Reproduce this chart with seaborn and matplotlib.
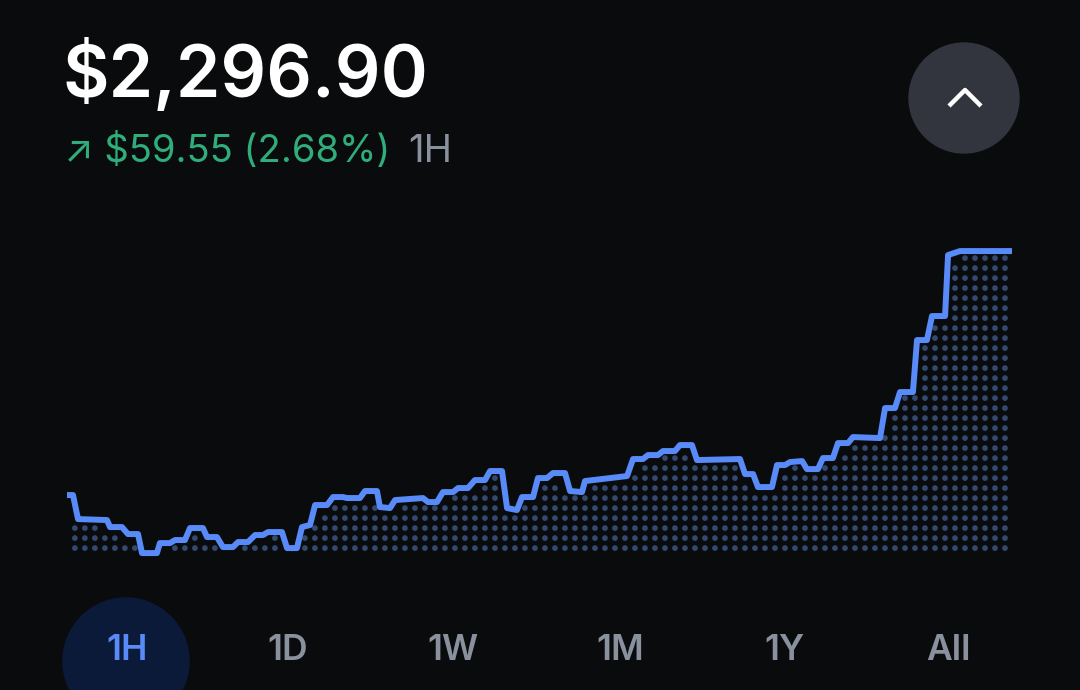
import numpy as np
import pandas as pd
import seaborn as sns
import matplotlib.pyplot as plt
from matplotlib.patches import Circle

# values
minutes = [0.00, 0.38, 0.70, 2.54, 2.73, 3.49, 3.87, 4.51, 4.76, 5.71, 5.90, 6.54, 6.86, 7.49,
           7.81, 8.63, 8.89, 9.52, 9.90, 10.54, 10.86, 11.49, 11.94, 12.44, 12.76, 13.65, 13.97,
           14.60, 14.92, 15.43, 15.75, 16.51, 16.89, 17.52, 17.78, 18.60, 18.92, 19.68, 19.87,
           20.51, 20.83, 22.60, 22.92, 23.49, 23.87, 24.51, 24.83, 25.46, 25.90, 26.54, 26.86,
           27.62, 27.94, 28.57, 28.89, 29.59, 29.90, 30.48, 30.86, 31.62, 31.94, 32.70, 32.89,
           35.56, 35.94, 36.57, 36.89, 37.52, 37.84, 38.60, 38.92, 39.68, 40.00, 42.73, 43.05,
           43.56, 43.87, 44.76, 45.08, 45.59, 45.90, 46.67, 46.98, 47.68, 48.00, 48.63, 48.95,
           49.59, 49.90, 51.62, 51.94, 52.57, 52.89, 53.71, 53.97, 54.60, 54.92, 55.75, 55.94,
           56.70, 60.00]
price = [2237.35, 2237.35, 2231.49, 2231.25, 2229.54, 2229.54, 2227.83, 2227.83, 2223.19,
         2223.19, 2225.63, 2225.63, 2226.37, 2226.37, 2229.30, 2229.30, 2227.10, 2227.10,
         2224.66, 2224.66, 2225.88, 2225.88, 2227.59, 2227.59, 2228.32, 2228.32, 2224.41,
         2224.41, 2229.54, 2230.03, 2234.91, 2234.91, 2236.86, 2236.86, 2236.62, 2236.62,
         2238.33, 2238.33, 2234.42, 2234.18, 2236.13, 2236.62, 2235.64, 2235.64, 2238.08,
         2238.08, 2239.06, 2239.06, 2241.01, 2241.01, 2243.21, 2243.21, 2234.18, 2233.69,
         2236.86, 2236.86, 2241.50, 2241.50, 2242.72, 2242.72, 2238.33, 2238.08, 2240.77,
         2241.99, 2246.14, 2246.14, 2247.11, 2247.11, 2248.09, 2248.09, 2249.55, 2249.55,
         2245.89, 2246.14, 2242.47, 2242.47, 2239.30, 2239.30, 2244.67, 2244.67, 2245.40,
         2245.65, 2243.69, 2243.69, 2246.38, 2246.38, 2250.04, 2250.04, 2251.50, 2251.26,
         2258.58, 2258.58, 2262.49, 2262.49, 2275.18, 2275.18, 2281.04, 2281.04, 2295.92,
         2296.90, 2296.90]

current_price = "$2,296.90"
change_text = "\u2197 $59.55 (2.68%)"
period = "1H"
tabs = ["1H", "1D", "1W", "1M", "1Y", "All"]

df = pd.DataFrame({"minute": minutes, "price": price})

bg = "#0a0b0d"
blue = "#588af8"
dot_blue = "#34496f"
grey = "#8a919e"
green = "#2fae7b"

sns.set_theme(style="dark")
plt.rcParams["font.family"] = ["Inter", "DejaVu Sans"]

fig = plt.figure(figsize=(10.8, 6.9), dpi=100, facecolor=bg)

# pixel-space layer for the header, button and tabs
deco = fig.add_axes([0, 0, 1, 1], zorder=0)
deco.set_xlim(0, 1080)
deco.set_ylim(690, 0)
deco.axis("off")

deco.text(62, 97, current_price, color="white", fontsize=51.5, fontweight="semibold", va="baseline")
deco.text(64, 162, change_text, color=green, fontsize=27.5, va="baseline")
deco.text(408, 162, period, color=grey, fontsize=27.5, va="baseline")

deco.add_patch(Circle((964, 98), 55, color="#32353d"))
deco.plot([949, 965, 981], [106, 90, 106], color="white", lw=3.2, solid_capstyle="butt")

# tab bar
tab_x = [127, 288, 453, 620, 785, 948]
deco.add_patch(Circle((126, 661), 63, color="#0c1a3a", clip_on=True))
for i, (t, x) in enumerate(zip(tabs, tab_x)):
    deco.text(x, 660, t, color=blue if i == 0 else grey, fontsize=25.5,
              fontweight="semibold", ha="center", va="baseline")

# chart
ax = fig.add_axes([67 / 1080, 130 / 690, 945 / 1080, 320 / 690], zorder=1)
ax.set_facecolor("none")
ax.set_xlim(0, 60)
ax.set_ylim(2221.5, 2299.6)
ax.axis("off")

# dotted area below the line
cols = np.arange(0.5, 59.7, 0.635)
rows = 2224.41 + 2.4406 * np.arange(0, 31)
px, py = [], []
for c in cols:
    top = min(np.interp(c - 0.25, minutes, price), np.interp(c, minutes, price),
              np.interp(c + 0.25, minutes, price)) - 1.3
    for r in rows:
        if r <= top:
            px.append(c)
            py.append(r)
sns.scatterplot(x=px, y=py, ax=ax, s=17, color=dot_blue, edgecolor="none", linewidth=0)

sns.lineplot(data=df, x="minute", y="price", ax=ax, estimator=None, sort=False,
             color=blue, linewidth=4.3, solid_capstyle="round", solid_joinstyle="round")
ax.set_xlabel("")
ax.set_ylabel("")

plt.savefig("out.png", dpi=100, facecolor=bg)
